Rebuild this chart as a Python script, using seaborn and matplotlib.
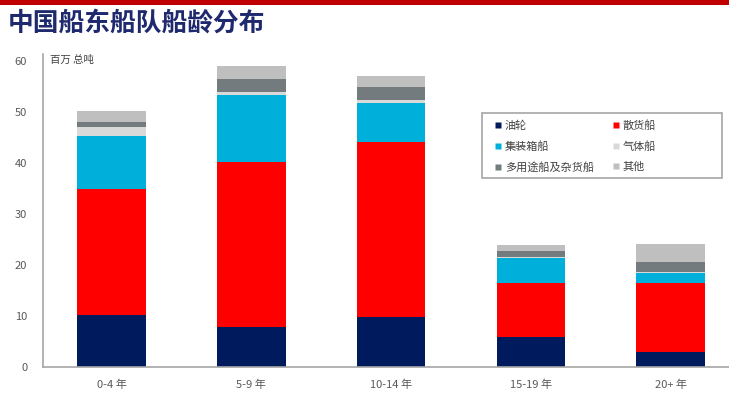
import matplotlib
matplotlib.use("Agg")
import matplotlib.pyplot as plt
from matplotlib.patches import Rectangle
from matplotlib.lines import Line2D
import numpy as np
import pandas as pd
import seaborn as sns

# Fleet age groups and tonnage by ship type (million GT)
age_groups = ["0-4 年", "5-9 年", "10-14 年", "15-19 年", "20+ 年"]
tanker = [10.2, 7.8, 9.8, 5.8, 2.9]
bulk = [24.7, 32.4, 34.3, 10.7, 13.6]
container = [10.4, 13.1, 7.6, 4.9, 2.0]
gas = [1.8, 0.7, 0.6, 0.2, 0.1]
multipurpose = [0.9, 2.4, 2.7, 1.2, 1.9]
other = [2.2, 2.6, 2.1, 1.1, 3.6]

series_names = ["油轮", "散货船", "集装箱船", "气体船", "多用途船及杂货船", "其他"]
series_values = [tanker, bulk, container, gas, multipurpose, other]
series_colors = ["#001A5E", "#FF0000", "#00B0DA", "#D9D9D9", "#737B7E", "#BFBFBF"]

sns.set_theme(style="white")
plt.rcParams["font.family"] = ["Noto Sans CJK SC", "DejaVu Sans"]

W, H = 729, 394
fig = plt.figure(figsize=(W / 100, H / 100), dpi=100)
ax = fig.add_axes([42.5 / W, 27 / H, (W - 42.5) / W, (367 - 54) / H])

# Stacked bars: draw cumulative totals from the top layer down
cum = np.cumsum(np.array(series_values), axis=0)
for name, totals, color in reversed(list(zip(series_names, cum, series_colors))):
    df = pd.DataFrame({"age": age_groups, "value": totals})
    sns.barplot(data=df, x="age", y="value", color=color, width=0.49,
                saturation=1, linewidth=0, ax=ax, order=age_groups)

ax.set_xlim(-0.494, 4.418)
ax.set_ylim(0, 61.4)
ax.set_yticks([0, 10, 20, 30, 40, 50, 60])
ax.set_xlabel("")
ax.set_ylabel("")
for side in ["top", "right"]:
    ax.spines[side].set_visible(False)
for side in ["left", "bottom"]:
    ax.spines[side].set_color("#A6A6A6")
    ax.spines[side].set_linewidth(1.2)
ax.tick_params(axis="both", length=0, labelsize=8, colors="#595959")
ax.tick_params(axis="y", pad=11)
ax.tick_params(axis="x", pad=9)
for lbl in ax.get_yticklabels() + ax.get_xticklabels():
    lbl.set_color("#595959")

# Unit label
fig.text(50 / W, 1 - 60 / H, "百万 总吨", fontsize=7.5, color="#404040",
         va="center", ha="left")

# Title and top rule
fig.patches.append(Rectangle((0, 1 - 5 / H), 1, 5 / H, transform=fig.transFigure,
                             facecolor="#C00000", edgecolor="none"))
fig.text(8 / W, 1 - 23 / H, "中国船东船队船龄分布", fontsize=18.5, fontweight="bold",
         color="#1F2A6E", va="center", ha="left")

# Legend with a separate frame
fig.patches.append(Rectangle((482 / W, 1 - 178 / H), 240 / W, 65 / H,
                             transform=fig.transFigure, facecolor="white",
                             edgecolor="#A6A6A6", linewidth=1.2, zorder=2))
order = [0, 2, 4, 1, 3, 5]
handles = [Line2D([], [], marker="s", linestyle="none", markersize=5,
                  markerfacecolor=series_colors[i], markeredgecolor="none")
           for i in order]
labels = [series_names[i] for i in order]
leg = fig.legend(handles, labels, loc="upper left",
                 bbox_to_anchor=(485 / W, 1 - 111 / H), ncol=2, frameon=False,
                 fontsize=8, handlelength=0.7, handletextpad=0.3,
                 columnspacing=1.6, labelspacing=0.93, borderpad=0.3)
for t in leg.get_texts():
    t.set_color("#404040")
leg.set_zorder(3)

fig.savefig("out.png", dpi=100)
